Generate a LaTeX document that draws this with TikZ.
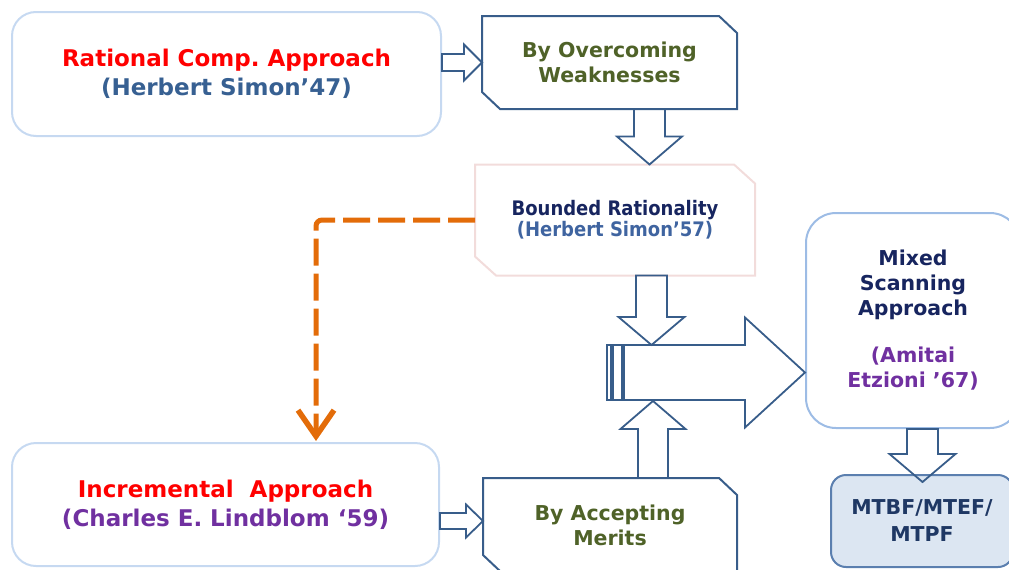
\documentclass[tikz,border=0pt]{standalone}
\usepackage{fontspec}
\setmainfont{DejaVu Sans}
\usetikzlibrary{arrows.meta,calc}
\definecolor{lightbd}{HTML}{C6D9F1}
\definecolor{mixbd}{HTML}{9DBCE5}
\definecolor{arrowbd}{HTML}{385D8A}
\definecolor{pinkbd}{HTML}{F2DCDB}
\definecolor{mtfill}{HTML}{DCE6F2}
\definecolor{mtbd}{HTML}{5B7FAF}
\definecolor{hblue}{HTML}{376092}
\definecolor{bblue}{HTML}{3F64A0}
\definecolor{dgreen}{HTML}{4F6228}
\definecolor{purp}{HTML}{7030A0}
\definecolor{navy}{HTML}{17255F}
\definecolor{mtnavy}{HTML}{1F3864}
\definecolor{dorange}{HTML}{E36C09}
\frenchspacing
% block arrow: #1 from, #2 to, #3 shaft half width, #4 head half width, #5 head length
\newcommand\blockarrow[5]{%
  \draw[blk] let \p1=#1, \p2=#2, \n1={atan2(\y2-\y1,\x2-\x1)}, \n2={veclen(\x2-\x1,\y2-\y1)} in
  [shift={(\p1)}, rotate=\n1]
  (0pt,{-#3*1pt}) -- ({\n2-#5*1pt},{-#3*1pt}) -- ({\n2-#5*1pt},{-#4*1pt}) --
  ({\n2},0pt) -- ({\n2-#5*1pt},{#4*1pt}) -- ({\n2-#5*1pt},{#3*1pt}) -- (0pt,{#3*1pt}) -- cycle;}
% snipped box outline around a node: #1 node, #2 snip x, #3 snip y, #4 style
\newcommand\snipoutline[4]{%
  \draw[#4] (#1.north west) -- ($(#1.north east)+(-#2,0)$) -- ($(#1.north east)+(0,#3)$) --
    (#1.south east) -- ($(#1.south west)+(#2,0)$) -- ($(#1.south west)+(0,-#3)$) -- cycle;}
\newcommand\nrw[1]{\scalebox{0.9}[1]{#1}}
\begin{document}
\begin{tikzpicture}[x=1pt,y=-1pt,
  softbox/.style={draw=lightbd, line width=2pt, rounded corners=24pt, align=center, inner sep=0pt},
  snipbox/.style={rectangle, align=center, inner sep=0pt, outer sep=0pt},
  snipline/.style={line width=2pt, line join=miter},
  bigfont/.style={font=\bfseries\fontsize{23}{29}\selectfont},
  midfont/.style={font=\bfseries\fontsize{20.5}{25}\selectfont},
  blk/.style={draw=arrowbd, line width=1.8pt, line join=miter},
  orangedash/.style={draw=dorange, line width=5pt, dash pattern=on 27pt off 8pt, rounded corners=6pt,
     -{Straight Barb[length=26pt,width=36pt,line width=5.5pt]}}]
\useasboundingbox (0,0) rectangle (1009,570);
\clip (0,0) rectangle (1009,570);

% boxes
\node[softbox, bigfont, minimum width=429pt, minimum height=124pt] (rat) at (226.5,74)
  {\textcolor{red}{Rational Comp. Approach}\\\textcolor{hblue}{(Herbert Simon’47)}};
\node[softbox, bigfont, minimum width=427pt, minimum height=123pt] (inc) at (225.5,504.5)
  {\textcolor{red}{Incremental~ Approach}\\\textcolor{purp}{(Charles E. Lindblom ‘59)}};
\node[snipbox, midfont, text=dgreen, minimum width=255pt, minimum height=93pt] (ov) at (609.5,62.5)
  {By Overcoming\\Weaknesses};
\snipoutline{ov}{18}{17}{snipline, draw=arrowbd}
\node[snipbox, minimum width=280pt, minimum height=111pt,
  font=\bfseries\fontsize{20}{21}\selectfont] (bnd) at (615,220)
  {\textcolor{navy}{\nrw{Bounded Rationality}}\\\textcolor{bblue}{\nrw{(Herbert Simon’57)}}};
\snipoutline{bnd}{21}{19}{snipline, draw=pinkbd}
\node[snipbox, midfont, text=dgreen, minimum width=254pt, minimum height=94pt] (mer) at (610,525)
  {By Accepting\\Merits};
\snipoutline{mer}{18}{17}{snipline, draw=arrowbd}
\node[draw=mixbd, line width=2pt, rounded corners=30pt, align=center, inner sep=0pt, midfont,
  minimum width=214pt, minimum height=215pt] (mix) at (913,320.5)
  {\textcolor{navy}{Mixed}\\\textcolor{navy}{Scanning}\\\textcolor{navy}{Approach}\\[22pt]%
   \textcolor{purp}{(Amitai}\\\textcolor{purp}{Etzioni ’67)}};
\node[draw=mtbd, fill=mtfill, line width=2pt, rounded corners=15pt, align=center, inner sep=0pt,
  font=\bfseries\fontsize{20.5}{27}\selectfont, text=mtnavy,
  minimum width=182pt, minimum height=92pt] (mtbf) at (922,521)
  {MTBF/MTEF/\\MTPF};

% small arrows into the snipped boxes
\blockarrow{(rat.east |- ov.west)}{(ov.west)}{8.5}{18}{18}
\coordinate (a4s) at ($(inc.east)+(0,16.5)$);
\blockarrow{(a4s)}{(mer.west |- a4s)}{8}{16.5}{17}

% down arrow from ov to bnd
\blockarrow{($(ov.south)+(40,0)$)}{($(bnd.north)+(34.5,0)$)}{15.5}{32.5}{28}

% big striped arrow
\coordinate (bigtail) at (624,372.5);
\blockarrow{(bigtail)}{(mix.west |- bigtail)}{27.5}{55}{60}
\draw[blk, line width=1.5pt] ($(bigtail)+(-17,-27.5)$) rectangle ($(bigtail)+(-13,27.5)$);
\draw[blk, line width=1.5pt] ($(bigtail)+(-11,-27.5)$) rectangle ($(bigtail)+(-2,27.5)$);

% arrows into the big arrow
\blockarrow{($(bnd.south)+(36.5,0)$)}{($(bigtail)+(27.5,-27.5)$)}{15.5}{33}{28}
\blockarrow{($(mer.north)+(43,0)$)}{($(bigtail)+(29,28.5)$)}{15}{32.5}{28}

% mix to mtbf
\blockarrow{($(mix.south)+(9.5,0)$)}{($(mtbf.north)+(0.5,8)$)}{15.5}{33}{28}

% orange dashed connector
\coordinate (dtip) at (316,441);
\draw[orangedash] (bnd.west) -| (dtip);
\end{tikzpicture}
\end{document}
